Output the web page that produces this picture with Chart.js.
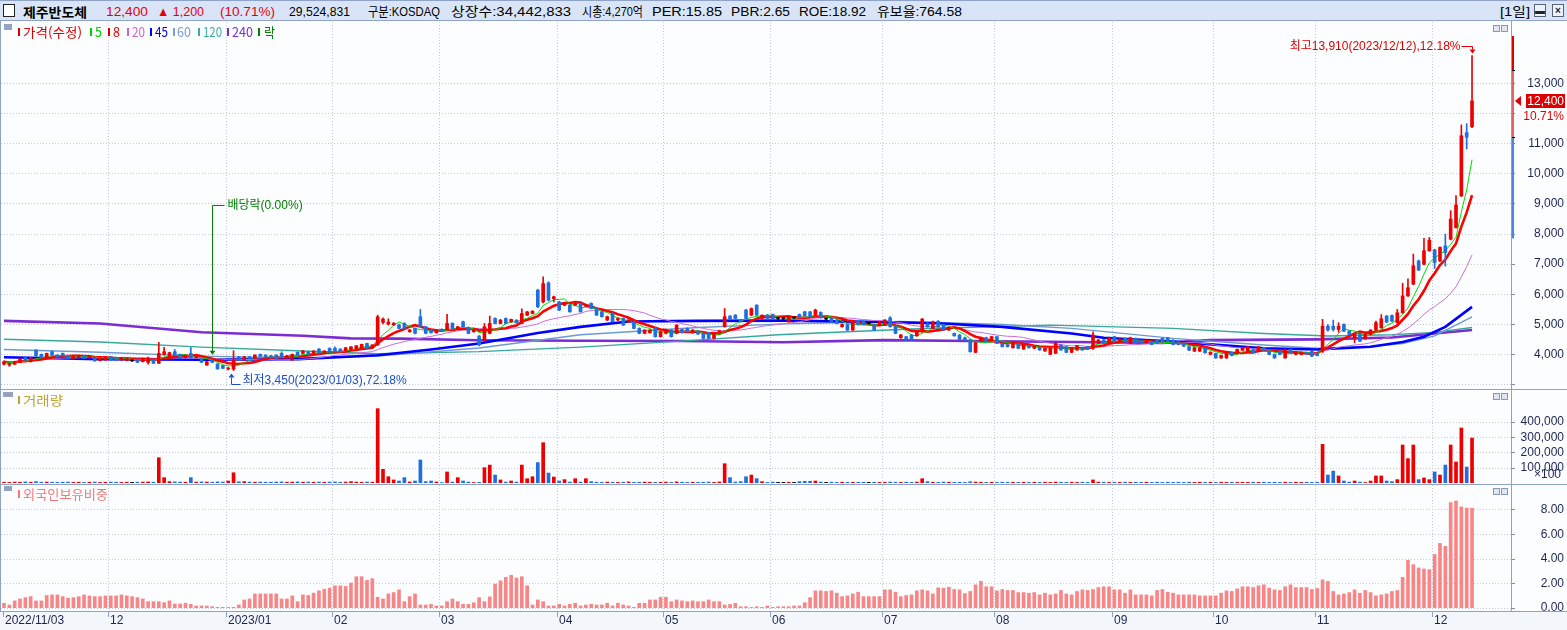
<!DOCTYPE html>
<html lang="ko"><head><meta charset="utf-8">
<script src="https://cdn.jsdelivr.net/npm/chart.js@4.4.1/dist/chart.umd.min.js"></script>
<style>
html,body{margin:0;padding:0}
body{width:1567px;height:630px;overflow:hidden;position:relative;background:#fcfdff;font-family:"Liberation Sans","Noto Sans CJK KR",sans-serif}
canvas{position:absolute;left:0}
#hdr{position:absolute;left:0;top:0;width:1567px;height:21px;box-sizing:border-box;background:#d9e5f7;border-top:1px solid #8ea3c7;border-bottom:1px solid #8ea3c7}
.h{position:absolute;top:2px;font-size:13px;line-height:17px;white-space:nowrap;color:#000;transform-origin:0 50%}
.red{color:#e3000b}
.lt{position:absolute;font-size:13px;line-height:14px;white-space:nowrap;font-family:"Noto Sans CJK KR",sans-serif;transform-origin:0 50%}
.lb{position:absolute;width:2px;height:8px}
.hl{position:absolute;left:0;width:1567px;height:1px;background:#8ea2c4}
.vl{position:absolute;width:1px;background:#8ea2c4}
.ic{position:absolute;width:5px;height:5px;border:1px solid #8798b8;background:#dfe6f1}
.sq{position:absolute;height:6px;background:#94a3bf}
.btn{position:absolute;top:3px;width:10px;height:11px;border:1px solid #55637d;background:#eef2f8;font-size:10px;line-height:11px;text-align:center;font-weight:bold;color:#222}
</style></head><body>
<div id="hdr">
 <div style="position:absolute;left:3px;top:3px;width:10px;height:11px;border:1px solid #222;background:#fff"></div>
 <div class="h" data-w="64" style="left:23px;font-weight:bold;font-family:'Noto Sans CJK KR'">제주반도체</div>
 <div class="h red" data-w="42" style="left:106px">12,400</div>
 <div class="h red" data-w="47" style="left:157px">▲ 1,200</div>
 <div class="h red" data-w="55" style="left:220px">(10.71%)</div>
 <div class="h" data-w="61" style="left:289px">29,524,831</div>
 <div class="h" data-w="72" style="left:368px">구분:KOSDAQ</div>
 <div class="h" data-w="120" style="left:451px">상장수:34,442,833</div>
 <div class="h" data-w="61" style="left:582px">시총:4,270억</div>
 <div class="h" data-w="70" style="left:652px">PER:15.85</div>
 <div class="h" data-w="59" style="left:731px">PBR:2.65</div>
 <div class="h" data-w="67" style="left:799px">ROE:18.92</div>
 <div class="h" data-w="85" style="left:877px">유보율:764.58</div>
 <div class="h" data-w="30" style="left:1500px">[1일]</div>
 <div class="btn" style="left:1534px">▬</div>
 <div class="btn" style="left:1552px">×</div>
</div>

<canvas id="cp" width="1567" height="366" style="top:22px;width:1567px;height:366px"></canvas>
<canvas id="cv" width="1567" height="93" style="top:390px;width:1567px;height:93px"></canvas>
<canvas id="cf" width="1567" height="145" style="top:485px;width:1567px;height:145px"></canvas>

<div class="hl" style="top:389px"></div>
<div class="hl" style="top:484px"></div>
<div class="vl" style="left:0;top:21px;height:590px"></div>
<div class="vl" style="left:1511px;top:21px;height:590px"></div>

<div class="sq" style="left:4px;top:24px;width:8px"></div>
<div id="legend"></div>
<div class="sq" style="left:3px;top:392px;width:10px;height:5px"></div>
<div class="sq" style="left:4px;top:486px;width:8px;height:5px"></div>

<div class="ic" style="left:1493px;top:25px"></div><div class="ic" style="left:1501px;top:25px"></div>
<div class="ic" style="left:1493px;top:393px"></div><div class="ic" style="left:1501px;top:393px"></div>
<div class="ic" style="left:1493px;top:488px"></div><div class="ic" style="left:1501px;top:488px"></div>

<script>
// ---------------- DATA (trading day index 0 = 2022/11/03 ... 275 = 2023/12/12) ----------------
const monthStart  = [0,20,42,62,82,104,124,144,165,186,208,227,246,268];
const monthLabels = ['2022/11/03','12','2023/01','02','03','04','05','06','07','08','09','10','11','12'];

const opens = [
3660,3635,3660,3725,3880,3745,4130,3990,3880,4075,
3965,4020,3935,3855,3880,3945,3880,3880,3780,3800,
3910,3890,3800,3780,3770,3825,3745,3720,3800,3690,
3990,3910,4075,3990,3880,4020,3880,3835,3635,3800,
3670,3615,3500,3500,3910,3800,3910,3855,3990,3965,
3945,3965,4020,3880,3800,4055,4020,4075,4020,4165,
4020,4185,4190,4165,4110,4130,4165,4210,4350,4210,
4300,5050,4990,4970,4960,5015,4740,4850,5235,4905,
4795,4705,4815,4815,5015,4815,5070,4885,4740,4595,
4465,4685,5180,5015,5180,5070,5125,5015,5290,5345,
6120,5730,6360,5840,5730,5620,5620,5620,5680,5590,
5680,5510,5400,5130,5350,5130,5180,5070,5070,4850,
4685,4705,4850,4575,4685,4795,4685,4815,4850,4705,
4760,4685,4705,4520,4720,4905,5260,5290,5125,5460,
5290,5620,5180,5290,5310,5180,5180,5070,5200,5310,
5400,5400,5290,5380,5160,5180,5130,4905,4980,4795,
5090,5090,5015,4960,4960,4960,5200,4905,4540,4575,
4630,4605,4740,5015,4850,5090,4980,4795,4685,4630,
4540,4465,4055,4430,4540,4465,4575,4355,4300,4210,
4355,4165,4275,4190,4210,4100,3990,4025,4300,4245,
4055,4135,4210,4245,4190,4355,4465,4355,4575,4410,
4520,4355,4520,4440,4375,4410,4465,4520,4540,4460,
4395,4370,4240,4095,4095,4205,3985,4015,3870,3870,
4060,4015,4125,4095,4150,4095,4205,4095,3985,4095,
3870,4150,3985,3985,4040,4095,3990,4095,4925,4925,
4815,4980,4760,4505,4680,4505,4650,4795,4870,5260,
5280,5040,5370,5930,6320,7090,6980,7430,7460,7090,
7590,7810,8200,9250,11350,11550];
const highs = [
3770,3710,3760,3850,3900,3890,4150,4000,4030,4100,
3980,4035,3950,3960,3960,3955,3955,3890,3865,3920,
3920,3900,3890,3865,3800,3835,3865,3900,3810,4385,
4220,4060,4150,4000,3975,4210,3920,3845,3755,3810,
3680,3625,3560,4110,3925,3920,3925,3975,4000,3980,
3955,3975,4075,3955,4000,4070,4110,4085,4110,4180,
4110,4210,4240,4175,4220,4250,4280,4330,4365,4310,
5290,5200,5170,5050,4990,5040,4820,4870,5480,4920,
4810,4820,4840,5320,5040,4920,5090,4900,4820,4610,
5015,5260,5200,5150,5200,5160,5140,5500,5420,5440,
6150,6560,6400,5920,5750,5700,5640,5700,5700,5660,
5700,5530,5420,5260,5370,5200,5200,5140,5090,4870,
4810,4810,4870,4760,4810,4810,4980,4830,4870,4810,
4780,4700,4720,4700,4790,5510,5280,5310,5140,5480,
5530,5640,5300,5310,5330,5220,5210,5250,5230,5330,
5420,5420,5490,5400,5190,5200,5150,5000,5000,5090,
5110,5110,5040,4980,5090,5140,5240,4920,4650,4590,
4650,4760,5180,5040,5090,5110,5000,4900,4700,4650,
4560,4480,4390,4560,4560,4590,4590,4370,4320,4390,
4370,4310,4290,4280,4225,4200,4200,4410,4315,4260,
4200,4290,4225,4260,4740,4480,4480,4560,4590,4510,
4535,4560,4535,4455,4445,4425,4480,4535,4555,4475,
4410,4385,4255,4220,4220,4220,4075,4030,3965,4055,
4075,4165,4220,4255,4165,4255,4220,4110,4000,4110,
4165,4165,4075,4075,4055,4110,4005,5150,4980,5125,
5040,5000,4780,4670,4700,4670,4810,5090,5310,5280,
5300,5480,6350,6500,7320,7120,7840,7870,7480,7560,
7980,8760,9260,11610,11650,13910];
const lows = [
3640,3590,3645,3710,3790,3730,3920,3895,3870,3950,
3900,3930,3840,3845,3870,3845,3870,3760,3770,3790,
3790,3790,3790,3770,3750,3715,3735,3660,3680,3680,
3960,3900,3935,3845,3870,3870,3870,3715,3620,3710,
3495,3510,3470,3450,3790,3790,3845,3845,3910,3870,
3870,3845,3870,3870,3790,3960,4010,3985,4010,4040,
4010,4060,4070,4070,4100,4120,4155,4200,4180,4200,
4290,5000,4960,4940,4840,4840,4720,4670,4880,4670,
4690,4690,4760,4800,4840,4800,4890,4670,4720,4265,
4410,4670,5000,5000,5000,5050,5020,5000,5270,5330,
5540,5700,5760,5730,5440,5600,5390,5600,5390,5570,
5500,5280,5220,5110,5060,5110,4950,5050,4840,4670,
4670,4690,4560,4560,4670,4560,4670,4690,4730,4690,
4650,4500,4500,4505,4705,4890,5130,5170,5060,5170,
5270,5280,5160,5170,5150,5150,5150,5050,5180,5220,
5260,5220,5270,5190,5130,5060,5000,4890,4780,4780,
4970,4970,4990,4780,4950,4950,4890,4670,4520,4450,
4450,4590,4720,4890,4830,4890,4780,4780,4590,4470,
4450,4060,4040,4410,4390,4450,4340,4230,4230,4195,
4175,4150,4195,4175,4120,4085,3975,4010,4120,4040,
4040,4120,4120,4150,4150,4340,4340,4340,4395,4395,
4395,4340,4340,4340,4360,4305,4340,4395,4410,4300,
4300,4245,4110,4080,4080,4025,3970,3855,3855,3855,
3935,4000,4110,4080,4025,4080,4110,3970,3855,3970,
3855,4025,3970,3970,3990,3915,3935,4050,4760,4760,
4725,4740,4635,4370,4410,4490,4635,4780,4855,5040,
5080,5020,5350,5910,6300,6770,6960,7410,6840,7070,
6920,7790,8180,9230,10810,11520];
const closes = [
3745,3690,3745,3835,3800,3880,3945,3910,4020,3965,
3910,3945,3855,3945,3945,3855,3945,3770,3855,3910,
3800,3800,3880,3855,3770,3725,3855,3860,3690,4020,
4075,4045,3945,3855,3965,3880,3910,3725,3745,3720,
3505,3525,3530,3800,3800,3910,3855,3965,3920,3880,
3880,3855,3880,3945,3990,3965,4100,3990,4100,4045,
4100,4065,4075,4075,4210,4240,4275,4320,4190,4300,
5235,5160,5060,5020,4850,4850,4795,4685,4905,4685,
4705,4795,4775,5015,4850,4905,4905,4685,4795,4300,
4905,5015,5015,5125,5015,5150,5035,5345,5400,5420,
5570,6340,5790,5900,5460,5680,5400,5680,5400,5640,
5510,5290,5240,5240,5070,5180,4960,5130,4850,4685,
4795,4795,4575,4740,4795,4575,4960,4705,4740,4795,
4660,4520,4520,4685,4775,5240,5150,5180,5070,5180,
5510,5290,5290,5180,5160,5180,5180,5240,5200,5240,
5270,5240,5460,5200,5160,5070,5015,4980,4795,5070,
4980,4980,5015,4795,5070,5130,4905,4685,4630,4465,
4465,4740,5160,4905,5070,4905,4795,4885,4605,4485,
4465,4080,4375,4540,4410,4575,4355,4245,4245,4375,
4190,4300,4210,4265,4135,4190,4190,4355,4135,4055,
4190,4275,4135,4165,4630,4465,4355,4540,4410,4495,
4410,4540,4355,4355,4430,4320,4355,4410,4425,4315,
4315,4260,4125,4205,4205,4040,4060,3870,3950,4040,
3950,4150,4205,4240,4040,4240,4125,3985,3870,3985,
4150,4040,4060,4060,4005,3930,3950,4925,4795,4815,
4925,4760,4650,4650,4425,4650,4795,5040,5170,5060,
5090,5370,5930,6200,6930,6790,7430,7780,7040,7540,
7370,8480,8950,11250,11200,12400];
// volume (x100 shares)
const volumes = [
5000,4000,6000,5000,7000,5000,9000,5000,6000,5000,
4000,5000,6000,4000,5000,4000,5000,6000,4000,5000,
6000,5000,4000,5000,4000,5000,6000,7000,5000,165000,
35000,9000,7000,6000,5000,35000,6000,7000,6000,5000,
7000,6000,13000,67000,8000,9000,6000,5000,6000,5000,
5000,6000,7000,5000,6000,7000,5000,6000,5000,6000,
5000,6000,7000,5000,6000,9000,6000,5000,6000,5000,
485000,89000,41000,20000,13000,35000,7000,13000,150000,9000,
13000,7000,3000,72000,6000,35000,13000,6000,3000,4000,
100000,117000,52000,20000,6000,13000,6000,117000,28000,41000,
133000,263000,65000,39000,13000,22000,6000,28000,6000,28000,
9000,5000,4000,6000,5000,4000,5000,7000,4000,5000,
6000,5000,4000,5000,6000,4000,7000,5000,4000,5000,
4000,5000,6000,4000,7000,126000,35000,6000,9000,41000,
52000,28000,9000,4000,6000,4000,4000,5000,4000,9000,
11000,11000,13000,6000,4000,5000,4000,5000,4000,5000,
4000,5000,4000,5000,4000,5000,6000,5000,4000,5000,
4000,6000,28000,9000,5000,4000,6000,5000,4000,5000,
4000,8000,6000,5000,4000,5000,4000,5000,4000,5000,
4000,5000,4000,5000,4000,5000,4000,6000,5000,4000,
5000,4000,5000,4000,20000,6000,5000,4000,5000,4000,
5000,4000,5000,4000,5000,4000,5000,4000,5000,4000,
5000,4000,5000,4000,5000,4000,5000,4000,5000,4000,
5000,4000,5000,4000,5000,4000,5000,4000,5000,4000,
5000,4000,5000,4000,5000,4000,5000,252000,52000,78000,
46000,13000,6000,13000,6000,3000,13000,46000,46000,13000,
9000,22000,248000,159000,248000,22000,33000,22000,72000,52000,
117000,248000,137000,359000,104000,293000];
// foreign ownership ratio (%)
const foreignPct = [
0.36,0.22,0.55,0.71,0.82,0.90,0.55,0.55,0.99,1.04,
1.04,0.90,0.77,0.82,0.90,1.04,0.96,0.90,0.90,0.96,
0.96,0.96,1.04,0.96,0.90,0.82,0.71,0.49,0.49,0.49,
0.41,0.55,0.30,0.30,0.36,0.27,0.14,0.14,0.14,0.08,
0.03,0.03,0.03,0.03,0.22,0.63,0.71,1.12,1.12,1.12,
1.12,1.12,0.71,0.71,0.96,0.49,1.04,0.99,1.18,1.37,
1.50,1.59,1.78,1.78,1.73,2.00,2.52,2.52,2.22,2.36,
0.85,0.71,1.12,1.23,1.45,0.49,0.90,1.12,0.22,0.22,
0.27,0.14,0.14,0.49,0.71,0.49,0.27,0.27,0.41,0.82,
0.49,0.88,1.92,2.19,2.47,2.63,2.41,2.52,1.78,0.22,
0.63,0.49,0.14,0.14,0.27,0.14,0.27,0.36,0.14,0.22,
0.27,0.22,0.22,0.36,0.14,0.36,0.22,0.14,0.03,0.36,
0.36,0.63,0.63,0.85,0.85,0.49,0.63,0.55,0.49,0.55,
0.49,0.49,0.63,0.49,0.49,0.22,0.27,0.36,0.08,0.08,
0.03,0.08,0.03,0.14,0.03,0.08,0.08,0.08,0.14,0.14,
0.41,0.82,1.37,1.37,1.32,1.37,1.18,0.90,0.96,1.12,
1.26,0.90,0.90,0.90,0.90,1.45,1.45,1.26,0.90,0.99,
1.04,1.37,1.45,1.37,1.12,1.62,1.59,1.67,1.48,1.45,
1.15,1.32,1.86,2.14,1.70,1.70,1.37,1.48,1.40,1.40,
1.23,1.23,1.18,1.23,1.04,1.18,1.04,1.12,1.40,1.12,
1.04,1.32,1.45,1.40,1.48,1.64,1.70,1.70,1.45,1.45,
1.18,1.45,1.04,1.04,1.04,0.96,1.40,1.48,1.26,1.18,
1.04,1.04,1.04,1.04,0.96,0.96,0.96,0.96,1.18,1.37,
1.32,1.53,1.70,1.70,1.64,1.78,1.86,1.59,1.45,1.40,
1.70,1.86,1.64,1.64,1.64,1.48,1.56,2.27,2.14,1.32,
1.04,1.12,1.23,1.45,1.18,1.40,1.23,0.96,1.04,1.12,
1.32,1.40,2.47,3.86,3.50,3.23,3.15,3.10,4.33,5.23,
4.99,8.55,8.68,8.20,8.10,8.10];
// long moving averages: [day index, value]
const ma45Pts  = [[0,3890],[18,3830],[37,3810],[55,3830],[70,3960],[80,4150],[89,4350],[100,4700],[108,4900],[117,5080],[130,5100],[146,5110],[162,5070],[175,5020],[187,4900],[200,4680],[206,4540],[219,4410],[236,4190],[246,4150],[256,4240],[262,4400],[266,4575],[270,4900],[275,5565]];
const ma60Pts  = [[0,4150],[18,4060],[37,3930],[56,3860],[70,3930],[89,4200],[108,4640],[130,4880],[146,5000],[168,5080],[187,4980],[200,4850],[219,4520],[236,4300],[246,4190],[256,4250],[262,4350],[268,4600],[275,5230]];
const ma120Pts = [[0,4490],[18,4400],[37,4230],[56,4100],[70,4010],[89,4080],[108,4230],[126,4420],[145,4640],[170,4830],[196,4960],[219,4850],[236,4680],[248,4600],[260,4640],[268,4720],[275,4880]];
const ma240Pts = [[0,5100],[18,5015],[37,4720],[56,4605],[65,4520],[74,4510],[89,4455],[108,4440],[127,4430],[146,4390],[165,4460],[181,4430],[200,4400],[217,4370],[226,4460],[246,4485],[260,4550],[275,4795]];
// axis ticks
const priceTicks = [3000,4000,5000,6000,7000,8000,9000,10000,11000,12000,13000];
const priceTickLabels = ['','4,000','5,000','6,000','7,000','8,000','9,000','10,000','11,000','','13,000'];
const volTicks = [100000,200000,300000,400000];
const volTickLabels = ['100,000','200,000','300,000','400,000'];
const forTicks = [0,2,4,6,8];
const forTickLabels = ['0.00','2.00','4.00','6.00','8.00'];
// legends: [bar x, text x, text width, centre y, colour, text]
const legendItems = [
 [18,23,59,32,'#e00000','가격(수정)'],[90,95,7,32,'#00d000','5'],[108,113,7,32,'#e00000','8'],
 [127,132,13,32,'#cc66cc','20'],[150,155,13,32,'#0000ee','45'],[173,177,14,32,'#7aa0d0','60'],
 [198,203,19,32,'#3aae9e','120'],[227,232,21,32,'#7a30d4','240'],[258,264,11,32,'#008000','락'],
 [18,23,40,400,'#b9a534','거래량'],[18,23,85,494,'#f07a7a','외국인보유비중']];
// annotations
const exDivIdx = 39, exDivLabel = '배당락(0.00%)';
const lowIdx = 43, lowLabel = '최저3,450(2023/01/03),72.18%';
const highIdx = 275, highLabel = '최고13,910(2023/12/12),12.18%';
const changeLabel = '10.71%';
const limitBand = [7840, 11200, 13430, 14560];
const limitColors = ['#4f86dc', '#e46464', '#e00000'];

// ---------------- LEGEND / HEADER TEXT FIT ----------------
const lg = document.getElementById('legend');
legendItems.forEach(([bx,tx,tw,cy,col,txt])=>{
  const b=document.createElement('div'); b.className='lb'; b.style.left=bx+'px'; b.style.top=(cy-4)+'px'; b.style.background=col; lg.appendChild(b);
  const t=document.createElement('div'); t.className='lt'; t.textContent=txt; t.dataset.w=tw; t.style.left=tx+'px'; t.style.top=(cy-7)+'px'; t.style.color=col; lg.appendChild(t);
});
function fitText(){
  document.querySelectorAll('[data-w]').forEach(el=>{
    el.style.transform='none';
    const w=el.getBoundingClientRect().width, t=+el.dataset.w;
    if(w>0) el.style.transform='scaleX('+(t/w).toFixed(3)+')';
  });
}
fitText();
if(document.fonts&&document.fonts.ready) document.fonts.ready.then(fitText);

// ---------------- RENDER ----------------
const RED='#ee0000', BLUE='#1f6fe0', BLACK='#000000';
const candleColor = i => closes[i]>opens[i]?RED:(closes[i]<opens[i]?BLUE:BLACK);
const colors = closes.map((c,i)=>candleColor(i));
function sma(n){ return closes.map((c,i)=>{const s=Math.max(0,i-n+1);let t=0;for(let k=s;k<=i;k++)t+=closes[k];return {x:i,y:t/(i-s+1)};}); }
const pts = a => a.map(p=>({x:p[0],y:p[1]}));
const X_MIN=-0.56, X_MAX=282.3;
const AXFONT='12px "Liberation Sans", "Noto Sans CJK KR"';
const AXCOL='#1d2553';

function opts(yMin,yMax,padB){
  return {responsive:false,animation:false,events:[],
    layout:{padding:{left:1,right:56,top:0,bottom:padB}},
    plugins:{legend:{display:false},tooltip:{enabled:false}},
    scales:{x:{type:'linear',min:X_MIN,max:X_MAX,display:false,offset:false},
            y:{type:'linear',min:yMin,max:yMax,display:false}}};
}
function gridPlugin(vals){
  return {id:'grid',beforeDatasetsDraw(c){
    const {ctx,chartArea:a,scales:{x,y}}=c; ctx.save();
    ctx.strokeStyle='#c4c9d3'; ctx.lineWidth=1; ctx.setLineDash([1,2]);
    vals.forEach(v=>{const p=Math.round(y.getPixelForValue(v))+0.5; if(p<a.top||p>a.bottom)return;
      ctx.beginPath();ctx.moveTo(a.left,p);ctx.lineTo(a.right,p);ctx.stroke();});
    monthStart.forEach((m,k)=>{if(k===0)return; const p=Math.round(x.getPixelForValue(m-0.5))+0.5;
      ctx.beginPath();ctx.moveTo(p,a.top);ctx.lineTo(p,a.bottom);ctx.stroke();});
    ctx.restore();}};
}
function axisPlugin(vals,labels,extra){
  return {id:'ax',afterDraw(c){
    const {ctx,chartArea:a,scales:{y}}=c; ctx.save();
    ctx.font=AXFONT; ctx.fillStyle=AXCOL; ctx.textAlign='right'; ctx.textBaseline='middle';
    vals.forEach((v,i)=>{const p=y.getPixelForValue(v); if(p<a.top-2||p>a.bottom+2)return;
      ctx.fillStyle='#7d8fb0'; ctx.fillRect(a.right,Math.round(p),4,1);
      if(labels[i]){ctx.fillStyle=AXCOL; ctx.fillText(labels[i],c.width-3,p+0.5);}});
    if(extra) extra(c,ctx,a,y);
    ctx.restore();}};
}
function arrowHead(ctx,x,y,dir){ // dir: 1 down, -1 up
  ctx.beginPath(); ctx.moveTo(x-3,y-4*dir); ctx.lineTo(x+3,y-4*dir); ctx.lineTo(x,y); ctx.closePath(); ctx.fill();
}
const annotPlugin = {id:'annot',afterDatasetsDraw(c){
  const {ctx,scales:{x,y}}=c; ctx.save(); ctx.lineWidth=1; ctx.textBaseline='middle';
  ctx.font='12px "Liberation Sans", "Noto Sans CJK KR"';
  const ex=Math.round(x.getPixelForValue(exDivIdx))+0.5, top=183.5, tip=y.getPixelForValue(highs[exDivIdx])-5;
  ctx.strokeStyle=ctx.fillStyle='#008000';
  ctx.beginPath(); ctx.moveTo(ex+12,top); ctx.lineTo(ex,top); ctx.lineTo(ex,tip-3); ctx.stroke();
  arrowHead(ctx,ex,tip,1);
  ctx.fillText(exDivLabel,ex+15,top);
  const lx=Math.round(x.getPixelForValue(lowIdx))-2.5, ly=y.getPixelForValue(lows[lowIdx]);
  const by=Math.round(ly+13)+0.5;
  ctx.strokeStyle=ctx.fillStyle='#1f4fc6';
  ctx.beginPath(); ctx.moveTo(lx,ly+7); ctx.lineTo(lx,by); ctx.lineTo(lx+9,by); ctx.stroke();
  arrowHead(ctx,lx,ly+3,-1);
  ctx.fillText(lowLabel,lx+11,ly+10);
  const hx=Math.round(x.getPixelForValue(highIdx))+0.5, hy=y.getPixelForValue(highs[highIdx]);
  const ty=Math.round(hy-10)+0.5;
  ctx.strokeStyle=ctx.fillStyle='#e00000';
  ctx.beginPath(); ctx.moveTo(hx-11,ty); ctx.lineTo(hx,ty); ctx.lineTo(hx,hy-6); ctx.stroke();
  arrowHead(ctx,hx,hy-2,1);
  ctx.textAlign='right'; ctx.fillText(highLabel,hx-12,ty);
  ctx.restore();}};
function priceExtra(c,ctx,a,y){
  const bx=a.right;
  for(let k=0;k<limitColors.length;k++){
    const y0=y.getPixelForValue(limitBand[k+1]), y1=y.getPixelForValue(limitBand[k]);
    ctx.fillStyle=limitColors[k]; ctx.fillRect(bx,y0,3,y1-y0);
  }
  ctx.fillStyle='#000'; [limitBand[1],limitBand[2]].forEach(v=>ctx.fillRect(bx,Math.round(y.getPixelForValue(v)),4,1));
  const last=closes.length-1, yc=y.getPixelForValue(closes[last]);
  ctx.fillStyle='#e00000';
  ctx.beginPath(); ctx.moveTo(bx+4,yc); ctx.lineTo(bx+10,yc-5); ctx.lineTo(bx+10,yc+5); ctx.closePath(); ctx.fill();
  ctx.fillRect(bx+15,Math.round(yc-7),39,14);
  ctx.fillStyle='#fff'; ctx.textAlign='right'; ctx.fillText(closes[last].toLocaleString('en-US'),c.width-3,yc+0.5);
  ctx.fillStyle='#fff'; ctx.fillRect(bx+15,Math.round(yc+8),39,14);
  ctx.fillStyle='#e00000'; ctx.fillText(changeLabel,c.width-3,yc+15.5);
}
function volExtra(c,ctx,a,y){ ctx.fillStyle=AXCOL; ctx.fillText('×100',c.width-6,a.bottom-8); }
const xLabelPlugin = {id:'xlab',
  beforeDraw(c){const {ctx,chartArea:a}=c; ctx.save(); ctx.fillStyle='#f3f6fa'; ctx.fillRect(0,a.bottom,c.width,c.height-a.bottom); ctx.restore();},
  afterDraw(c){
    const {ctx,chartArea:a,scales:{x}}=c; ctx.save();
    ctx.fillStyle='#8ea2c4'; ctx.fillRect(0,a.bottom,c.width,1);
    ctx.font=AXFONT; ctx.textBaseline='middle'; ctx.textAlign='left';
    monthStart.forEach((m,k)=>{const p=Math.round(x.getPixelForValue(k===0?-0.2:m-0.5));
      ctx.fillStyle='#8ea2c4'; ctx.fillRect(p,a.bottom,1,6);
      ctx.fillStyle=AXCOL; ctx.fillText(monthLabels[k],p+2,a.bottom+10);});
    ctx.restore();}};

const line = (data,color,w,order)=>({type:'line',data,borderColor:color,borderWidth:w,pointRadius:0,tension:0,fill:false,order});

new Chart(document.getElementById('cp'),{
  type:'bar',
  data:{datasets:[
    {type:'bar',data:opens.map((o,i)=>({x:i,y:[o,closes[i]]})),backgroundColor:colors,barThickness:3,minBarLength:1,grouped:false,borderWidth:0,order:0},
    {type:'bar',data:highs.map((h,i)=>({x:i,y:[lows[i],h]})),backgroundColor:colors,barThickness:1,grouped:false,borderWidth:0,order:1},
    line(sma(5),'#00dd00',1,2),
    line(sma(8),'#ff0000',2.6,3),
    line(sma(20),'#c86ed8',1,4),
    line(pts(ma45Pts),'#0000ff',2.6,5),
    line(pts(ma60Pts),'#6c9ad0',1.4,6),
    line(pts(ma120Pts),'#38a89a',1.4,7),
    line(pts(ma240Pts),'#7b2dd3',2.6,8)
  ]},
  options:opts(2871,15026,0),
  plugins:[gridPlugin(priceTicks),annotPlugin,axisPlugin(priceTicks,priceTickLabels,priceExtra)]
});

new Chart(document.getElementById('cv'),{
  type:'bar',
  data:{datasets:[{type:'bar',data:volumes.map((v,i)=>({x:i,y:v})),backgroundColor:colors,barThickness:3,borderWidth:0}]},
  options:opts(0,606700,0),
  plugins:[gridPlugin(volTicks),axisPlugin(volTicks,volTickLabels,volExtra)]
});

new Chart(document.getElementById('cf'),{
  type:'bar',
  data:{datasets:[{type:'bar',data:foreignPct.map((v,i)=>({x:i,y:v})),backgroundColor:'#f98686',barThickness:3,borderWidth:0}]},
  options:opts(-0.27,9.98,19),
  plugins:[xLabelPlugin,gridPlugin(forTicks),axisPlugin(forTicks,forTickLabels)]
});
</script>
</body></html>
